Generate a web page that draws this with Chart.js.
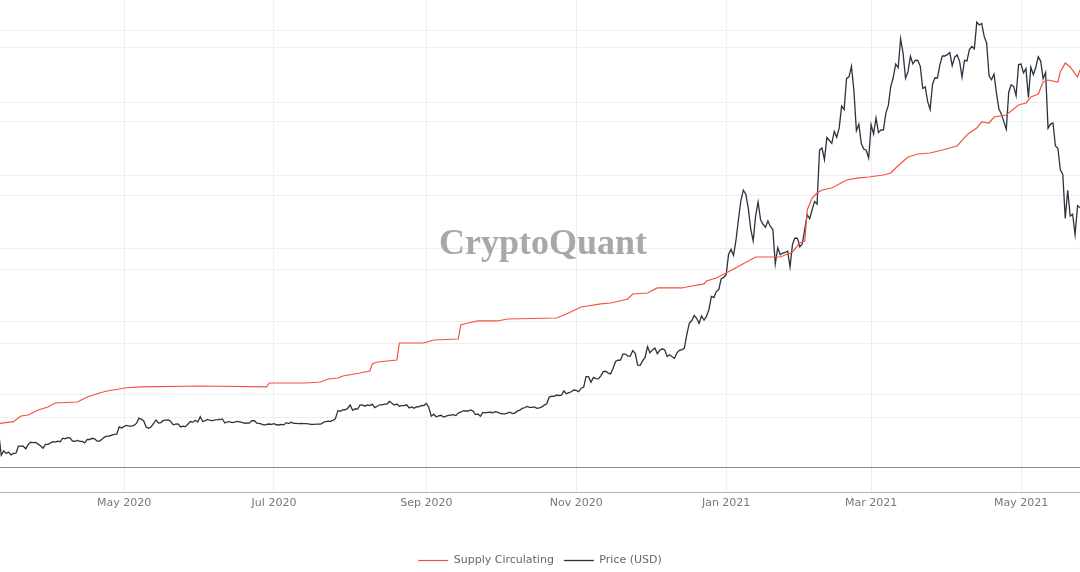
<!DOCTYPE html>
<html>
<head>
<meta charset="utf-8">
<script src="https://cdn.jsdelivr.net/npm/chart.js@4"></script>
<style>
  html, body { margin: 0; padding: 0; background: #fff; }
  #wrap { width: 1080px; height: 572px; }
</style>
</head>
<body>
<div id="wrap"><canvas id="graph"></canvas></div>
<script>
// day index: 0 = 1 Mar 2020
const priceStartDay = 10; // 11 Mar 2020

// daily close, USD
const price = [
  // Mar 2020 (11-31)
  7911, 4970, 5563, 5200, 5392, 5014, 5225, 5238, 6191, 6198, 6185, 5830, 6416, 6734, 6681, 6716, 6469, 6243, 5922, 6429, 6438,
  // Apr 2020
  6606, 6793, 6733, 6868, 6791, 7271, 7176, 7334, 7302, 6865, 6859, 6971, 6845, 6842, 6642, 7116, 7096, 7257, 7189, 6881,
  6880, 7117, 7429, 7550, 7569, 7679, 7795, 7807, 8801, 8658,
  // May 2020
  8864, 8989, 8897, 8912, 9003, 9268, 9951, 9842, 9593, 8756, 8601, 8804, 9269, 9733, 9328, 9377, 9670, 9726, 9729, 9523,
  9081, 9182, 9209, 8790, 8906, 8835, 9181, 9525, 9439, 9700, 9461,
  // Jun 2020
  10167, 9529, 9656, 9800, 9665, 9653, 9758, 9771, 9795, 9870, 9321, 9480, 9475, 9386, 9450, 9538, 9480, 9411, 9289, 9332,
  9303, 9648, 9629, 9313, 9265, 9162, 9046, 9143, 9190, 9138,
  // Jul 2020
  9232, 9087, 9058, 9135, 9073, 9375, 9252, 9428, 9277, 9278, 9240, 9277, 9243, 9243, 9193, 9132, 9151, 9159, 9185, 9164,
  9374, 9525, 9581, 9536, 9677, 9905, 10990, 10912, 11100, 11112, 11323,
  // Aug 2020
  11759, 11053, 11246, 11205, 11747, 11779, 11601, 11754, 11675, 11878, 11411, 11585, 11784, 11768, 11865, 11892, 12254, 11991, 11758, 11878,
  11592, 11681, 11664, 11774, 11367, 11488, 11324, 11542, 11507, 11711, 11680,
  // Sep 2020
  11970, 11414, 10245, 10511, 10169, 10280, 10370, 10131, 10242, 10363, 10400, 10442, 10324, 10680, 10796, 10974, 10948, 10944, 11094, 10938,
  10462, 10538, 10246, 10760, 10692, 10750, 10775, 10709, 10845, 10784,
  // Oct 2020
  10620, 10570, 10550, 10670, 10788, 10600, 10668, 10925, 11050, 11296, 11384, 11555, 11425, 11430, 11505, 11322, 11360, 11496, 11742, 11916,
  12823, 12965, 12931, 13108, 13031, 13075, 13654, 13271, 13437, 13547, 13781,
  // Nov 2020
  13737, 13550, 14023, 14146, 15591, 15580, 14834, 15479, 15332, 15290, 15701, 16276, 16317, 16068, 15955, 16716, 17645, 17804, 17817, 18621,
  18642, 18370, 18364, 19107, 18732, 17150, 17108, 17717, 18177, 19625,
  // Dec 2020
  18802, 19201, 19445, 18699, 19154, 19345, 19191, 18321, 18553, 18264, 18058, 18803, 19142, 19246, 19417, 21310, 22805, 23137, 23869, 23477,
  22803, 23783, 23241, 23735, 24664, 26437, 26272, 27084, 27362, 28841, 29001,
  // Jan 2021
  29374, 32127, 32782, 31971, 33992, 36824, 39371, 40797, 40254, 38356, 35567, 33923, 37316, 39187, 36826, 36178, 35792, 36631, 35891, 35469,
  30825, 33005, 32067, 32289, 32366, 32569, 30432, 33467, 34316, 34269, 33114,
  // Feb 2021
  33537, 35510, 37472, 36926, 38144, 39266, 38903, 46196, 46481, 44919, 47910, 47504, 47105, 48717, 47945, 49199, 52149, 51679, 55888, 56099,
  57539, 54207, 48824, 49705, 47093, 46339, 46188, 45137,
  // Mar 2021
  49631, 48378, 50538, 48561, 48927, 48912, 51206, 52246, 54824, 56008, 57805, 57332, 61243, 59302, 55907, 56804, 58870, 57858, 58346, 58313,
  57524, 54529, 54738, 52774, 51704, 55137, 55974, 55947, 57750, 58918, 58918,
  // Apr 2021
  59095, 59384, 57603, 58758, 59057, 58192, 56048, 58323, 58245, 59793, 60204, 59893, 63504, 63110, 63314, 61572, 60684, 56216, 55724, 56473,
  53906, 51762, 51093, 50050, 49004, 54021, 55033, 54824, 53555, 57750,
  // May 2021 (1-25)
  57828, 56631, 57200, 53333, 57424, 56397, 57356, 58803, 58232, 55859, 56704, 49150, 49716, 49880, 46760, 46456, 43538, 42909, 36964, 40784,
  37280, 37528, 34770, 38705, 38402
];

// supply circulating
const supplyDays = [10, 16, 19, 22, 26, 30, 33, 42, 46, 51, 54, 59, 61, 68, 92, 119, 120, 135, 141, 144,
  148, 150, 157, 161, 162, 164, 172, 173, 183, 187, 197, 198, 201, 205, 213, 217, 237, 241, 247, 255,
  259, 266, 268, 274, 278, 288, 290, 297, 298, 302, 306, 312, 318, 328, 333, 336, 338, 339, 341, 343,
  345, 349, 355, 360, 364, 370, 373, 375, 380, 384, 389, 394, 400, 404, 405, 408, 410, 413, 415, 420,
  425, 428, 430, 433, 435, 437, 441, 442, 444, 446, 449, 450];
const supplyValues = [6.10, 6.34, 7.12, 7.26, 7.95, 8.36, 8.90, 9.04, 9.73, 10.27, 10.55, 10.82, 10.96, 11.10, 11.23, 11.10, 11.64, 11.64, 11.78, 12.19,
  12.33, 12.60, 13.01, 13.29, 14.25, 14.52, 14.79, 17.12, 17.12, 17.53, 17.67, 19.59, 19.86, 20.14, 20.14, 20.41, 20.55, 21.10, 22.05, 22.47,
  22.60, 23.15, 23.84, 23.97, 24.66, 24.66, 24.79, 25.21, 25.62, 26.03, 26.71, 27.81, 28.90, 28.90, 29.59, 30.82, 31.10, 35.34, 36.99, 37.67,
  38.08, 38.36, 39.45, 39.73, 39.86, 40.14, 40.41, 41.10, 42.60, 43.01, 43.15, 43.56, 44.11, 45.62, 45.89, 46.58, 47.40, 47.26, 48.08, 48.36,
  49.73, 50.00, 50.82, 51.23, 52.88, 53.15, 52.88, 54.25, 55.48, 54.93, 53.56, 54.52];

const tickDays = [61, 122, 184, 245, 306, 365, 426];
const tickLabels = ['May 2020', 'Jul 2020', 'Sep 2020', 'Nov 2020', 'Jan 2021', 'Mar 2021', 'May 2021'];
const priceTicks = [0, 10000, 20000, 30000, 40000, 50000, 60000];
const supplyTicks = [0, 10, 20, 30, 40, 50, 60];

const priceData = price.map((v, i) => ({ x: priceStartDay + i, y: v }));
const supplyData = supplyDays.map((d, i) => ({ x: d, y: supplyValues[i] }));

const watermark = {
  id: 'watermark',
  beforeDatasetsDraw(chart) {
    const { ctx, chartArea } = chart;
    ctx.save();
    ctx.font = 'bold 36px "Liberation Serif"';
    ctx.fillStyle = '#a5a9ac';
    ctx.textAlign = 'center';
    ctx.textBaseline = 'alphabetic';
    ctx.fillText('CryptoQuant', (chartArea.left + chartArea.right) / 2 + 3, chartArea.top + 254);
    ctx.restore();
  }
};

const ctx = document.getElementById('graph').getContext('2d');
new Chart(ctx, {
  type: 'line',
  data: {
    datasets: [{
      label: 'Supply Circulating',
      data: supplyData,
      yAxisID: 'ySupply',
      borderColor: '#f2533d',
      backgroundColor: '#f2533d',
      borderWidth: 1.2,
      pointRadius: 0,
      tension: 0
    }, {
      label: 'Price (USD)',
      data: priceData,
      yAxisID: 'yPrice',
      borderColor: '#2b3340',
      backgroundColor: '#2b3340',
      borderWidth: 1.3,
      pointRadius: 0,
      tension: 0
    }]
  },
  options: {
    responsive: true,
    maintainAspectRatio: false,
    animation: false,
    layout: { padding: { top: 0, left: 0, right: 0, bottom: -4 } },
    plugins: {
      tooltip: { enabled: false },
      legend: {
        position: 'bottom',
        labels: {
          usePointStyle: true,
          pointStyle: 'line',
          pointStyleWidth: 30,
          color: '#666',
          padding: 10,
          font: { family: 'DejaVu Sans', size: 11 }
        }
      }
    },
    scales: {
      x: {
        type: 'linear',
        min: 10.5,
        max: 450,
        afterBuildTicks: s => { s.ticks = tickDays.map(v => ({ value: v })); },
        afterFit: s => { s.height = 53; },
        ticks: {
          color: '#777',
          padding: 5,
          maxRotation: 0,
          font: { family: 'DejaVu Sans', size: 11 },
          callback: v => tickLabels[tickDays.indexOf(v)]
        },
        grid: { color: '#efefef', drawTicks: false },
        border: { color: '#b0b0b0' }
      },
      yPrice: {
        position: 'left',
        min: 0,
        max: 66486,
        afterBuildTicks: s => { s.ticks = priceTicks.map(v => ({ value: v })); },
        ticks: { display: false },
        grid: { color: '#efefef', drawTicks: false },
        border: { display: false }
      },
      ySupply: {
        position: 'right',
        min: -3.29,
        max: 64.11,
        afterBuildTicks: s => { s.ticks = supplyTicks.map(v => ({ value: v })); },
        ticks: { display: false },
        grid: {
          color: c => (c.tick && c.tick.value === 0) ? '#8c8c8c' : '#efefef',
          drawTicks: false
        },
        border: { display: false }
      }
    }
  },
  plugins: [watermark]
});
</script>
</body>
</html>
